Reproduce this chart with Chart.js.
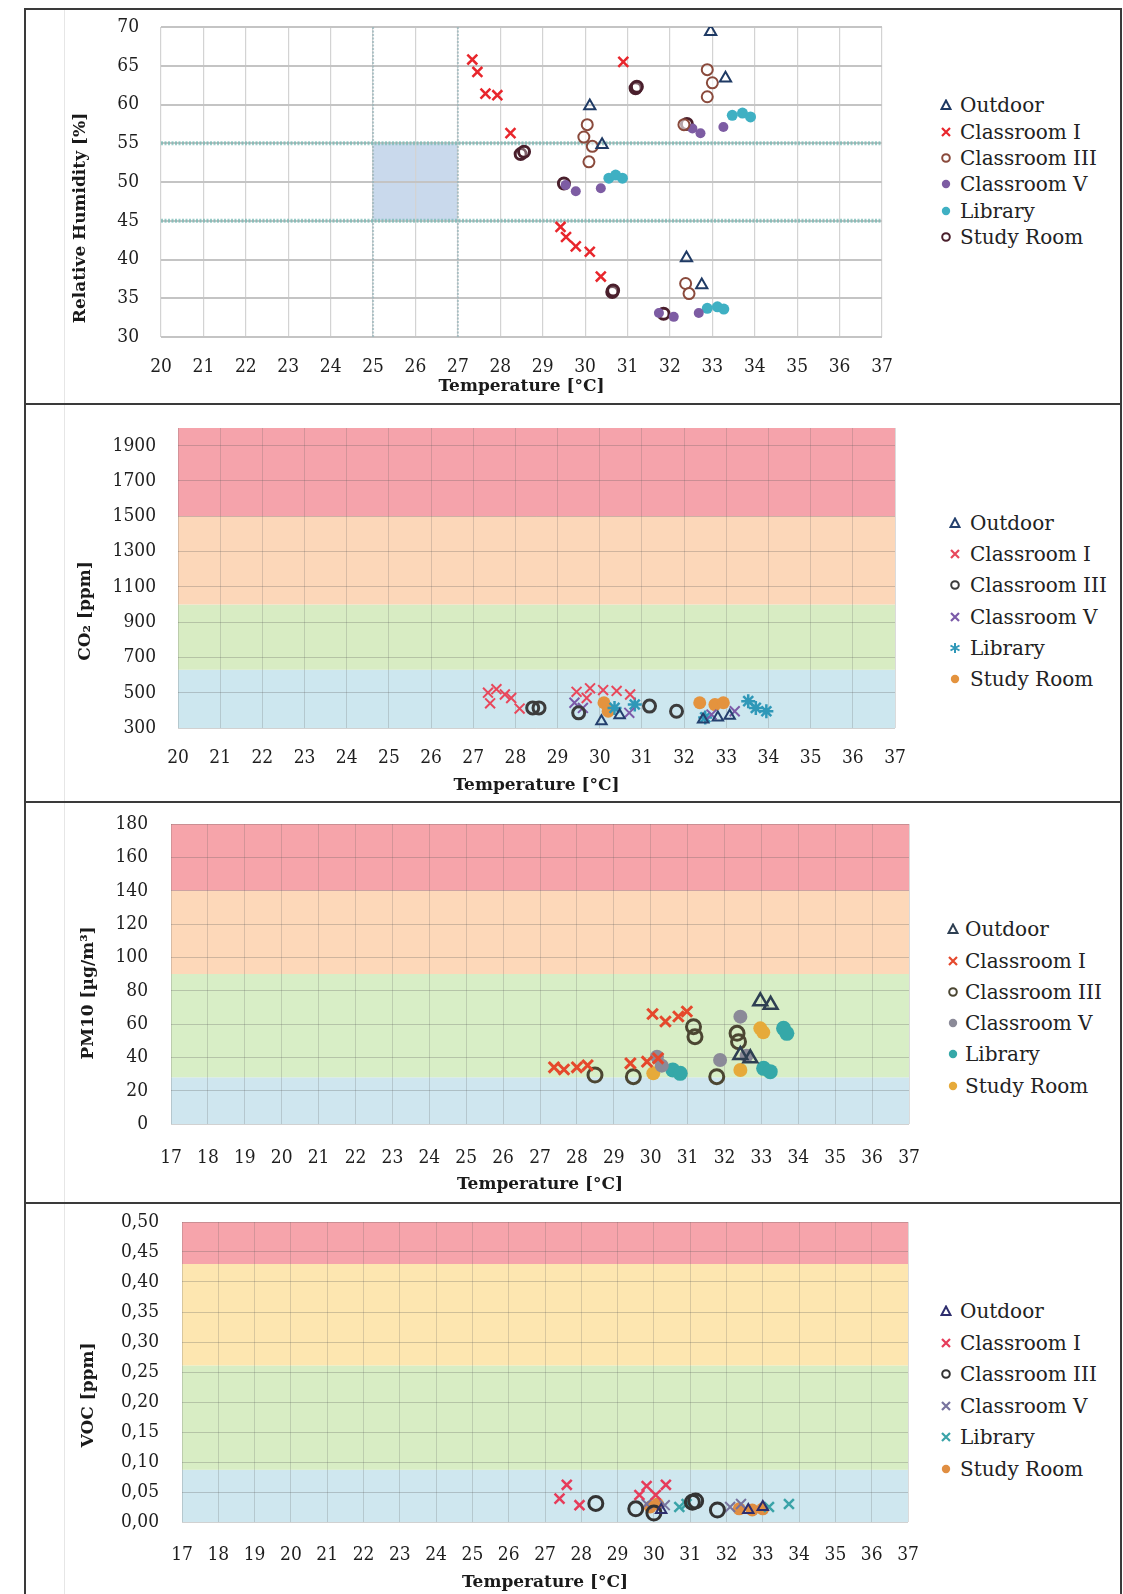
<!DOCTYPE html>
<html lang="en">
<head>
<meta charset="utf-8">
<title>Indoor air quality versus temperature</title>
<script src="https://cdn.jsdelivr.net/npm/chart.js@4.4.1/dist/chart.umd.min.js"></script>
<style>
  html, body { margin: 0; padding: 0; background: #fff; }
  body { position: relative; width: 1123px; height: 1594px; overflow: hidden; }
  .rule { position: absolute; background: #3a3a3a; }
  .faint { position: absolute; background: #e6e6e6; }
  canvas { position: absolute; }
  .lg-text { position: absolute; font-family: "DejaVu Serif", serif; font-size: 20px; line-height: 24px; color: #222; white-space: nowrap; }
  .lg-mark { position: absolute; }
</style>
</head>
<body>
<!-- figure frame and panel separators -->
<div class="faint" style="left:64px;top:10px;width:1px;height:1584px"></div>
<div class="rule" style="left:24px;top:8px;width:1098px;height:2px"></div>
<div class="rule" style="left:24px;top:8px;width:2px;height:1586px"></div>
<div class="rule" style="left:1120px;top:8px;width:2px;height:1586px"></div>
<div class="rule" style="left:24px;top:403px;width:1098px;height:2px"></div>
<div class="rule" style="left:24px;top:801px;width:1098px;height:2px"></div>
<div class="rule" style="left:24px;top:1202px;width:1098px;height:2px"></div>

<canvas id="chartRH"  width="890" height="391" style="left:28px;top:12px"></canvas>
<canvas id="chartCO2" width="890" height="390" style="left:28px;top:410px"></canvas>
<canvas id="chartPM"  width="905" height="393" style="left:28px;top:808px"></canvas>
<canvas id="chartVOC" width="905" height="385" style="left:28px;top:1209px"></canvas>

<script>
// ---------- shared ----------
const roomNames = ['Outdoor', 'Classroom I', 'Classroom III', 'Classroom V', 'Library', 'Study Room'];

// ---------- relative humidity panel ----------
const tempTicksA = [20, 21, 22, 23, 24, 25, 26, 27, 28, 29, 30, 31, 32, 33, 34, 35, 36, 37];
const rhTicks = [30, 35, 40, 45, 50, 55, 60, 65, 70];
const rhComfort = [45, 55];        // RH comfort limits [%]
const tempComfort = [25, 27];      // temperature comfort limits [°C]
const rhOutdoor = [[32.96, 69.4], [33.31, 63.4], [30.11, 59.8], [30.40, 54.8], [32.39, 40.2], [32.75, 36.7]];
const rhClassI = [[27.34, 65.8], [27.46, 64.2], [27.65, 61.4], [27.93, 61.2], [28.24, 56.3], [30.90, 65.5],
                  [29.42, 44.2], [29.55, 42.9], [29.78, 41.7], [30.11, 41.0], [30.37, 37.8]];
const rhClassIII = [[30.05, 57.4], [29.97, 55.8], [30.17, 54.6], [30.09, 52.6], [32.88, 64.5], [33.00, 62.8],
                    [32.88, 61.0], [32.33, 57.4], [32.37, 36.9], [32.45, 35.6]];
const rhClassV = [[29.54, 49.6], [29.78, 48.8], [30.37, 49.2], [32.53, 56.9], [32.72, 56.3], [33.26, 57.1],
                  [31.74, 33.1], [32.09, 32.6], [32.68, 33.1]];
const rhLibrary = [[30.56, 50.5], [30.72, 50.9], [30.88, 50.5], [33.47, 58.6], [33.71, 58.9], [33.90, 58.4],
                   [32.88, 33.7], [33.12, 33.9], [33.27, 33.6]];
const rhStudy = [[28.48, 53.6], [28.56, 53.9], [31.19, 62.1], [31.22, 62.3], [30.64, 35.8], [30.66, 36.0],
                 [29.50, 49.8], [32.40, 57.5], [31.85, 33.0]];

// ---------- CO2 panel ----------
const tempTicksB = [20, 21, 22, 23, 24, 25, 26, 27, 28, 29, 30, 31, 32, 33, 34, 35, 36, 37];
const co2Ticks = [300, 500, 700, 900, 1100, 1300, 1500, 1700, 1900];
const co2Range = [300, 2000];
const co2Zones = [300, 630, 1000, 1500, 2000];   // zone limits [ppm]
const co2Outdoor = [[30.04, 338], [30.47, 372], [32.45, 348], [32.80, 360], [33.08, 370]];
const co2ClassI = [[27.35, 500], [27.55, 520], [27.75, 490], [27.40, 440], [27.90, 470], [28.10, 410],
                   [29.45, 505], [29.77, 525], [30.08, 515], [30.40, 510], [30.72, 490], [29.69, 470]];
const co2ClassIII = [[28.41, 414], [28.56, 414], [31.18, 424], [31.82, 395], [29.50, 386]];
const co2ClassV = [[29.60, 414], [29.40, 443], [32.65, 376], [33.20, 395], [30.70, 386]];
const co2Library = [[30.35, 414], [30.83, 433], [33.52, 452], [33.95, 395], [33.70, 414], [32.50, 360]];
const co2Study = [[30.10, 443], [30.20, 395], [32.37, 443], [32.73, 433], [32.93, 443]];

// ---------- PM10 panel ----------
const tempTicksC = [17, 18, 19, 20, 21, 22, 23, 24, 25, 26, 27, 28, 29, 30, 31, 32, 33, 34, 35, 36, 37];
const pmTicks = [0, 20, 40, 60, 80, 100, 120, 140, 160, 180];
const pmZones = [0, 28, 90, 140, 180];             // zone limits [µg/m³]
const pmOutdoor = [[32.97, 73.6], [33.25, 71.5], [32.43, 41.4], [32.70, 39.4]];
const pmClassI = [[27.38, 34.0], [27.65, 32.7], [28.00, 34.0], [28.29, 35.2], [29.45, 36.4], [29.90, 37.4],
                  [30.20, 39.4], [30.05, 66.0], [30.40, 61.5], [30.75, 64.5], [30.98, 67.5]];
const pmClassIII = [[28.49, 29.4], [29.53, 28.4], [31.16, 58.4], [31.20, 52.4], [32.34, 54.4], [32.38, 49.4], [31.79, 28.4]];
const pmClassV = [[30.17, 40.4], [32.43, 64.4], [31.88, 38.4], [32.60, 41.0], [30.30, 35.0]];
const pmLibrary = [[33.60, 57.4], [33.69, 54.4], [33.06, 33.4], [33.24, 31.4], [30.60, 32.4], [30.80, 30.4]];
const pmStudy = [[32.97, 57.4], [32.43, 32.4], [30.07, 30.4], [33.05, 55.0]];

// ---------- VOC panel ----------
const tempTicksD = [17, 18, 19, 20, 21, 22, 23, 24, 25, 26, 27, 28, 29, 30, 31, 32, 33, 34, 35, 36, 37];
const vocTicks = [0, 0.05, 0.10, 0.15, 0.20, 0.25, 0.30, 0.35, 0.40, 0.45, 0.50];
const vocTickLabels = ['0,00', '0,05', '0,10', '0,15', '0,20', '0,25', '0,30', '0,35', '0,40', '0,45', '0,50'];
const vocZones = [0, 0.087, 0.261, 0.43, 0.50];      // zone limits [ppm]
const vocOutdoor = [[30.20, 0.020], [32.60, 0.020], [33.00, 0.025]];
const vocClassI = [[27.40, 0.039], [27.60, 0.062], [27.95, 0.028], [29.60, 0.045], [29.80, 0.060], [30.05, 0.045], [30.33, 0.062]];
const vocClassIII = [[28.40, 0.031], [29.50, 0.022], [31.06, 0.033], [31.15, 0.035], [31.75, 0.020], [30.00, 0.015]];
const vocClassV = [[29.80, 0.030], [30.30, 0.028], [32.10, 0.025], [32.40, 0.030]];
const vocLibrary = [[33.17, 0.025], [33.72, 0.030], [30.70, 0.025], [30.90, 0.030]];
const vocStudy = [[32.35, 0.022], [32.71, 0.020], [29.90, 0.025], [30.10, 0.030], [33.00, 0.022]];

// ---------- plugins ----------
// coloured background zones, drawn before the grid
const zonePlugin = {
  id: 'zones',
  beforeDraw(chart, args, opts) {
    if (!opts.bands) return;
    const { ctx, chartArea: a, scales: { x, y } } = chart;
    ctx.save();
    for (const b of opts.bands) {
      const top = y.getPixelForValue(b.to);
      const bottom = y.getPixelForValue(b.from);
      const left = b.x0 !== undefined ? x.getPixelForValue(b.x0) : a.left;
      const right = b.x1 !== undefined ? x.getPixelForValue(b.x1) : a.right;
      ctx.fillStyle = b.color;
      ctx.fillRect(left, top, right - left, bottom - top);
    }
    ctx.restore();
  }
};
// rotated y-axis caption placed beside the tick labels
const sideTitlePlugin = {
  id: 'sideTitle',
  afterDraw(chart, args, opts) {
    if (!opts.text) return;
    const { ctx, chartArea: a } = chart;
    ctx.save();
    ctx.translate(opts.x, (a.top + a.bottom) / 2 + opts.shift);
    ctx.rotate(-Math.PI / 2);
    ctx.font = 'bold 17px "DejaVu Serif", serif';
    ctx.fillStyle = '#1a1a1a';
    ctx.textAlign = 'center';
    ctx.textBaseline = 'middle';
    ctx.fillText(opts.text, 0, 0);
    ctx.restore();
  }
};

const tickFont = { family: '"DejaVu Serif Condensed", "DejaVu Serif", serif', size: 19 };
const titleFont = { family: '"DejaVu Serif", serif', size: 17, weight: 'bold' };

function series(arr, style) {
  return Object.assign({ data: arr.map(([x, y]) => ({ x, y })), order: 1 }, style);
}
function zoneBands(limits, colors) {
  return colors.map((c, i) => ({ from: limits[i], to: limits[i + 1], color: c }));
}

function buildChart(id, cfg) {
  return new Chart(document.getElementById(id), {
    type: 'scatter',
    data: { datasets: cfg.datasets },
    options: {
      responsive: false,
      animation: false,
      events: [],
      layout: { padding: cfg.pad },
      plugins: {
        legend: { display: false },
        tooltip: { enabled: false },
        zones: { bands: cfg.bands },
        sideTitle: cfg.yTitle
      },
      scales: {
        x: {
          type: 'linear',
          min: cfg.xTicks[0],
          max: cfg.xTicks[cfg.xTicks.length - 1],
          afterBuildTicks: s => { s.ticks = cfg.xTicks.map(v => ({ value: v })); },
          afterFit: s => { s.height = cfg.xAxisH; s.paddingLeft = 0; s.paddingRight = 0; },
          ticks: { autoSkip: false, maxRotation: 0, padding: cfg.xTickPad, font: tickFont, color: '#1e1e1e',
                   callback: (v, i) => String(cfg.xTicks[i]) },
          grid: { color: cfg.vGrid, lineWidth: cfg.vGridW, drawTicks: false },
          border: { display: false },
          title: { display: true, text: 'Temperature [°C]', font: titleFont, color: '#1a1a1a',
                   padding: { top: 0, bottom: cfg.xTitlePad } }
        },
        y: {
          type: 'linear',
          min: cfg.yRange[0],
          max: cfg.yRange[1],
          afterBuildTicks: s => { s.ticks = cfg.yTicks.map(v => ({ value: v })); },
          afterFit: s => { s.width = cfg.yAxisW; s.paddingTop = 0; s.paddingBottom = 0; },
          ticks: { autoSkip: false, padding: cfg.yTickPad, font: tickFont, color: '#1e1e1e',
                   callback: (v, i) => cfg.yLabels[i] },
          grid: { color: cfg.hGrid, lineWidth: cfg.hGridW, drawTicks: false },
          border: { display: false }
        }
      }
    },
    plugins: [zonePlugin, sideTitlePlugin]
  });
}

// ---------- marker styles per panel ----------
const stylesRH = [
  { pointStyle: 'triangle', pointRadius: 6.5, borderWidth: 2, borderColor: '#1f3a64', backgroundColor: 'rgba(0,0,0,0)' },
  { pointStyle: 'crossRot', pointRadius: 7, borderWidth: 2.5, borderColor: '#e8262c', backgroundColor: '#e8262c' },
  { pointStyle: 'circle', pointRadius: 5.5, borderWidth: 2, borderColor: '#8a4a3c', backgroundColor: 'rgba(255,255,255,0.6)' },
  { pointStyle: 'circle', pointRadius: 5, borderWidth: 0, borderColor: '#7d5ca3', backgroundColor: '#7d5ca3' },
  { pointStyle: 'circle', pointRadius: 5.5, borderWidth: 0, borderColor: '#3fb0c3', backgroundColor: '#3fb0c3' },
  { pointStyle: 'circle', pointRadius: 5.5, borderWidth: 3, borderColor: '#4a1f2c', backgroundColor: 'rgba(255,255,255,0.3)' }
];
const stylesCO2 = [
  { pointStyle: 'triangle', pointRadius: 6, borderWidth: 2, borderColor: '#24406e', backgroundColor: 'rgba(0,0,0,0)' },
  { pointStyle: 'crossRot', pointRadius: 7, borderWidth: 2, borderColor: '#e8475b', backgroundColor: '#e8475b' },
  { pointStyle: 'circle', pointRadius: 6, borderWidth: 3, borderColor: '#3c3c3c', backgroundColor: 'rgba(0,0,0,0)' },
  { pointStyle: 'crossRot', pointRadius: 7, borderWidth: 2, borderColor: '#7b5aa8', backgroundColor: '#7b5aa8' },
  { pointStyle: 'star', pointRadius: 7, borderWidth: 2.5, borderColor: '#2f98b8', backgroundColor: '#2f98b8' },
  { pointStyle: 'circle', pointRadius: 6.5, borderWidth: 0, borderColor: '#e4933e', backgroundColor: '#e4933e' }
];
const stylesPM = [
  { pointStyle: 'triangle', pointRadius: 8, borderWidth: 2.5, borderColor: '#2e3f52', backgroundColor: 'rgba(0,0,0,0)' },
  { pointStyle: 'crossRot', pointRadius: 7.5, borderWidth: 3, borderColor: '#e5482c', backgroundColor: '#e5482c' },
  { pointStyle: 'circle', pointRadius: 7, borderWidth: 3, borderColor: '#4b4632', backgroundColor: 'rgba(0,0,0,0)' },
  { pointStyle: 'circle', pointRadius: 7, borderWidth: 0, borderColor: '#8b8a98', backgroundColor: '#8b8a98' },
  { pointStyle: 'circle', pointRadius: 7.5, borderWidth: 0, borderColor: '#35a8a8', backgroundColor: '#35a8a8' },
  { pointStyle: 'circle', pointRadius: 7, borderWidth: 0, borderColor: '#e6aa3a', backgroundColor: '#e6aa3a' }
];
const stylesVOC = [
  { pointStyle: 'triangle', pointRadius: 6, borderWidth: 2, borderColor: '#2e2e6e', backgroundColor: 'rgba(0,0,0,0)' },
  { pointStyle: 'crossRot', pointRadius: 7, borderWidth: 2.5, borderColor: '#e63c5a', backgroundColor: '#e63c5a' },
  { pointStyle: 'circle', pointRadius: 7, borderWidth: 3, borderColor: '#333333', backgroundColor: 'rgba(0,0,0,0)' },
  { pointStyle: 'crossRot', pointRadius: 7, borderWidth: 2, borderColor: '#77739e', backgroundColor: '#77739e' },
  { pointStyle: 'crossRot', pointRadius: 7, borderWidth: 2.5, borderColor: '#3aa3a8', backgroundColor: '#3aa3a8' },
  { pointStyle: 'circle', pointRadius: 6.5, borderWidth: 0, borderColor: '#e08e42', backgroundColor: '#e08e42' }
];

function roomDatasets(groups, styles) {
  return groups.map((g, i) => series(g, Object.assign({ label: roomNames[i] }, styles[i])));
}

// ---------- chart 1: relative humidity ----------
const guide = { showLine: true, pointRadius: 0, borderWidth: 4, borderDash: [2, 1.5], order: 5 };
buildChart('chartRH', {
  datasets: [
    Object.assign({ data: [{ x: 20, y: rhComfort[1] }, { x: 37, y: rhComfort[1] }], borderColor: 'rgba(120,185,180,0.75)' }, guide),
    Object.assign({ data: [{ x: 20, y: rhComfort[0] }, { x: 37, y: rhComfort[0] }], borderColor: 'rgba(120,185,180,0.75)' }, guide),
    Object.assign({ data: [{ x: tempComfort[0], y: 30 }, { x: tempComfort[0], y: 70 }], borderColor: 'rgba(150,180,185,0.7)', borderWidth: 2 }, guide, { borderWidth: 2 }),
    Object.assign({ data: [{ x: tempComfort[1], y: 30 }, { x: tempComfort[1], y: 70 }], borderColor: 'rgba(150,180,185,0.7)', borderWidth: 2 }, guide, { borderWidth: 2 }),
    ...roomDatasets([rhOutdoor, rhClassI, rhClassIII, rhClassV, rhLibrary, rhStudy], stylesRH)
  ],
  bands: [{ from: rhComfort[0], to: rhComfort[1], x0: tempComfort[0], x1: tempComfort[1], color: '#c9d9ec' }],
  pad: { left: 0, right: 36, top: 15, bottom: 0 },
  xTicks: tempTicksA, yTicks: rhTicks, yLabels: rhTicks.map(String), yRange: [30, 70],
  xAxisH: 66, yAxisW: 133, xTickPad: 19, yTickPad: 22, xTitlePad: 6,
  vGrid: '#d3d3d3', vGridW: 1.2, hGrid: '#c4c4c4', hGridW: 2,
  yTitle: { text: 'Relative Humidity [%]', x: 53, shift: 36 }
});

// ---------- chart 2: CO2 ----------
buildChart('chartCO2', {
  datasets: roomDatasets([co2Outdoor, co2ClassI, co2ClassIII, co2ClassV, co2Library, co2Study], stylesCO2),
  bands: zoneBands(co2Zones, ['#cde7ef', '#d8ecc3', '#fcd7b9', '#f5a3ab']),
  pad: { left: 0, right: 23, top: 18, bottom: 0 },
  xTicks: tempTicksB, yTicks: co2Ticks, yLabels: co2Ticks.map(String), yRange: co2Range,
  xAxisH: 72, yAxisW: 150, xTickPad: 19, yTickPad: 22, xTitlePad: 4,
  vGrid: 'rgba(90,90,90,0.22)', vGridW: 1, hGrid: 'rgba(90,90,90,0.28)', hGridW: 1,
  yTitle: { text: 'CO₂ [ppm]', x: 58, shift: 33 }
});

// ---------- chart 3: PM10 ----------
buildChart('chartPM', {
  datasets: roomDatasets([pmOutdoor, pmClassI, pmClassIII, pmClassV, pmLibrary, pmStudy], stylesPM),
  bands: zoneBands(pmZones, ['#cfe6ef', '#d8eec6', '#fdd8b9', '#f6a4aa']),
  pad: { left: 0, right: 24, top: 16, bottom: 0 },
  xTicks: tempTicksC, yTicks: pmTicks, yLabels: pmTicks.map(String), yRange: [0, 180],
  xAxisH: 77, yAxisW: 143, xTickPad: 23, yTickPad: 23, xTitlePad: 6,
  vGrid: 'rgba(90,90,90,0.22)', vGridW: 1, hGrid: 'rgba(90,90,90,0.28)', hGridW: 1,
  yTitle: { text: 'PM10 [µg/m³]', x: 61, shift: 19 }
});

// ---------- chart 4: VOC ----------
buildChart('chartVOC', {
  datasets: roomDatasets([vocOutdoor, vocClassI, vocClassIII, vocClassV, vocLibrary, vocStudy], stylesVOC),
  bands: zoneBands(vocZones, ['#cfe7ef', '#d8edc4', '#fde6b0', '#f6a4ab']),
  pad: { left: 0, right: 25, top: 13, bottom: 0 },
  xTicks: tempTicksD, yTicks: vocTicks, yLabels: vocTickLabels, yRange: [0, 0.5],
  xAxisH: 72, yAxisW: 154, xTickPad: 22, yTickPad: 23, xTitlePad: 1,
  vGrid: 'rgba(90,90,90,0.22)', vGridW: 1, hGrid: 'rgba(90,90,90,0.28)', hGridW: 1,
  yTitle: { text: 'VOC [ppm]', x: 61, shift: 23 }
});

// ---------- legends (HTML, to the right of each plot) ----------
function markerSvg(st) {
  const c = st.borderColor;
  let shape;
  if (st.pointStyle === 'triangle') shape = `<polygon points="6,1.5 10.5,10 1.5,10" fill="none" stroke="${c}" stroke-width="2"/>`;
  else if (st.pointStyle === 'crossRot') shape = `<path d="M2,2 L10,10 M10,2 L2,10" stroke="${c}" stroke-width="2.2"/>`;
  else if (st.pointStyle === 'star') shape = `<path d="M6,1 L6,11 M1.5,3.5 L10.5,8.5 M10.5,3.5 L1.5,8.5" stroke="${c}" stroke-width="2"/>`;
  else if (st.borderWidth > 0 && st.backgroundColor.indexOf('rgba') === 0) shape = `<circle cx="6" cy="6" r="3.8" fill="none" stroke="${c}" stroke-width="2"/>`;
  else shape = `<circle cx="6" cy="6" r="4.2" fill="${st.backgroundColor}"/>`;
  return `<svg class="lg-mark" width="12" height="12" viewBox="0 0 12 12">${shape}</svg>`;
}
function addLegend(styles, markX, textX, rows) {
  roomNames.forEach((name, i) => {
    const wrap = document.createElement('div');
    wrap.innerHTML = markerSvg(styles[i]);
    const svg = wrap.firstChild;
    svg.style.left = (markX - 6) + 'px';
    svg.style.top = (rows[i] - 6) + 'px';
    document.body.appendChild(svg);
    const t = document.createElement('div');
    t.className = 'lg-text';
    t.textContent = name;
    t.style.left = textX + 'px';
    t.style.top = (rows[i] - 12) + 'px';
    document.body.appendChild(t);
  });
}
addLegend(stylesRH, 946, 960, [105, 131.5, 158, 184, 210.5, 237]);
addLegend(stylesCO2, 955, 970, [522.5, 554, 585, 616.5, 648, 679]);
addLegend(stylesPM, 953, 965, [929, 960.5, 991.5, 1023, 1054, 1085.5]);
addLegend(stylesVOC, 946, 960, [1311, 1342.5, 1374, 1405.5, 1437, 1469]);
</script>
</body>
</html>
